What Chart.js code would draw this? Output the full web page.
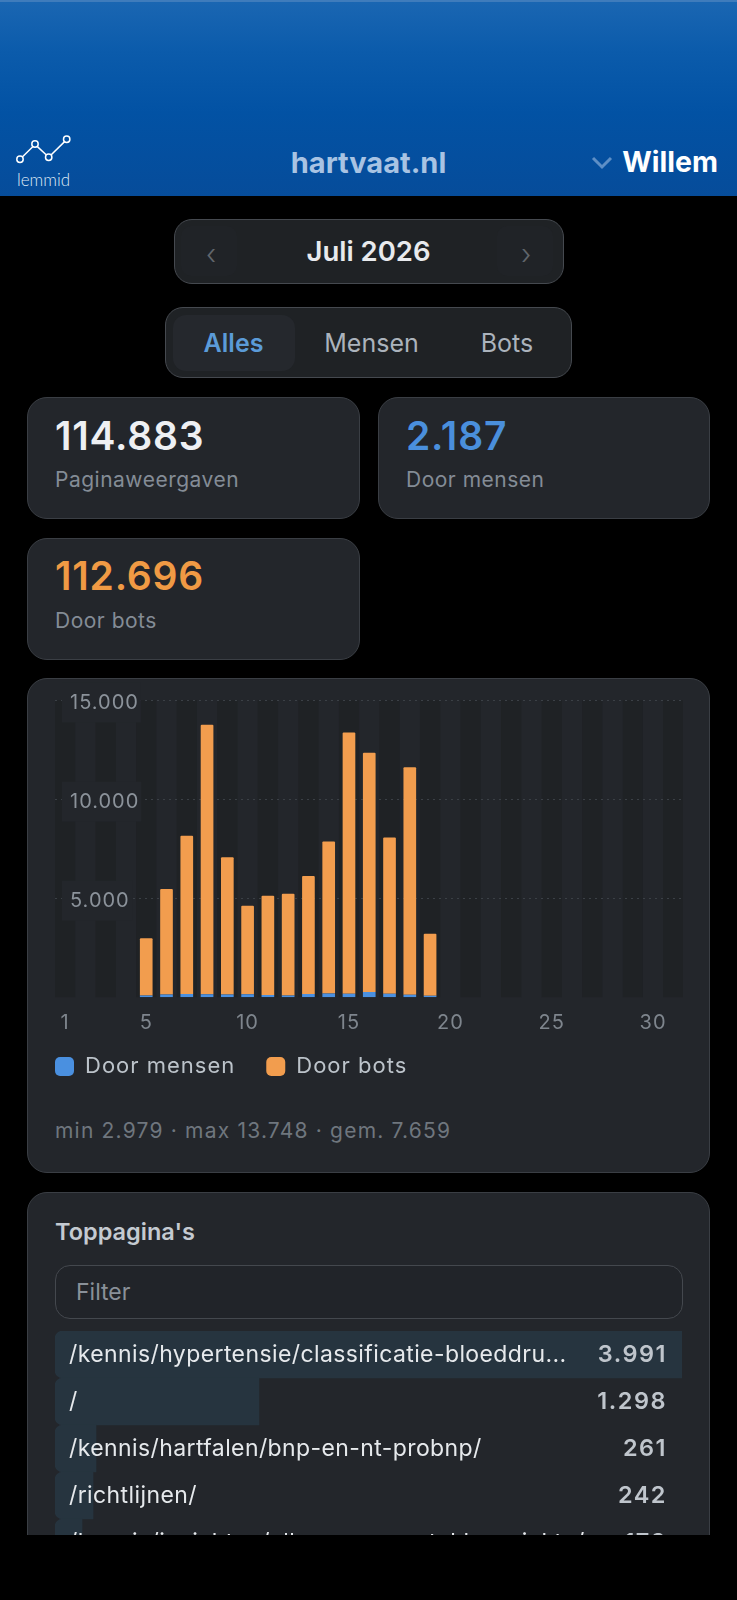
<!DOCTYPE html>
<html lang="nl">
<head>
<meta charset="utf-8">
<title>hartvaat.nl</title>
<script src="https://cdn.jsdelivr.net/npm/chart.js@4"></script>
<style>
    * { box-sizing: border-box; }
    html, body { margin: 0; background: #000; }
    body { width: 737px; height: 1600px; overflow: hidden; font-family: Inter, "Noto Sans", sans-serif; }
    #page { position: relative; width: 737px; height: 1535px; overflow: hidden; }
    #page > * { position: absolute; }
    .txt { position: absolute; white-space: nowrap; line-height: 1; }
    .cc { transform: translate(-50%, -50%); }
    .lc { transform: translateY(-50%); }
    .rc { transform: translate(-100%, -50%); }
    #header { left: 0; top: 0; width: 737px; height: 196px;
        background: linear-gradient(#1a66b2 0, #0b5bab 50px, #0252a4 110px, #064c9a 196px);
        border-top: 2px solid #3f7cbc; }
    .box { background: #23262b; border: 1.5px solid #3a3e44; border-radius: 20px; }
    .dark { background: #1f2225; border: 1.5px solid #45494f; border-radius: 18px; }
    .stat-val { font-size: 39px; font-weight: 600; letter-spacing: 0.8px; }
    .stat-lab { font-size: 21px; color: #848c96; letter-spacing: 0.5px; }
    #chartWrap { left: 23.5px; top: 672.8px; width: 659.5px; height: 421.5px; }
    #rowsWrap { left: 55px; top: 1331px; width: 627px; height: 235px; }
</style>
</head>
<body>
<div id="page">
    <div id="header"></div>
    <svg style="left:14px;top:134px" width="60" height="32" viewBox="14 134 60 32" fill="none" stroke="#fff" stroke-width="1.5">
        <path d="M22.3 157 L33 146.5 M37.4 146.6 L46.4 155 M51 155 L64.6 141.6"/>
        <circle cx="20" cy="159.3" r="3.2"/><circle cx="35" cy="144" r="3.2"/>
        <circle cx="48.7" cy="157.3" r="3.2"/><circle cx="66.7" cy="139.3" r="3.2"/>
    </svg>
    <div class="txt lc" style="left:17px;top:179px;font:300 17px Lato;color:#dfe9f5">lemmid</div>
    <div class="txt cc" style="left:368.5px;top:162px;font-size:29px;font-weight:700;color:#a8c3e3">hartvaat.nl</div>
    <svg style="left:591px;top:155px" width="22" height="15" fill="none" stroke="#5e8fc6" stroke-width="3"><path d="M2 3 L11 12 L20 3"/></svg>
    <div class="txt rc" style="left:718px;top:162px;font-size:28.5px;font-weight:700;color:#fff">Willem</div>

    <div class="dark" style="left:174px;top:219px;width:390px;height:65px"></div>
    <div style="left:181px;top:226px;width:56px;height:50px;background:#202327;border-radius:10px"></div>
    <div style="left:497px;top:226px;width:56px;height:50px;background:#202327;border-radius:10px"></div>
    <div class="txt cc" style="left:211px;top:254px;font-size:28px;font-weight:300;color:#60666c">‹</div>
    <div class="txt cc" style="left:526px;top:254px;font-size:28px;font-weight:300;color:#60666c">›</div>
    <div class="txt cc" style="left:368.5px;top:251.5px;font-size:27.5px;font-weight:600;color:#e8eaed">Juli 2026</div>

    <div class="dark" style="left:165px;top:307px;width:407px;height:71px"></div>
    <div style="left:173px;top:315px;width:122px;height:56px;background:#25282d;border-radius:13px"></div>
    <div class="txt cc" style="left:233.5px;top:343px;font-size:25px;font-weight:600;color:#5b9bd8">Alles</div>
    <div class="txt cc" style="left:371.5px;top:343px;font-size:25px;font-weight:400;color:#abb3bc">Mensen</div>
    <div class="txt cc" style="left:507px;top:343px;font-size:25px;font-weight:400;color:#abb3bc">Bots</div>

    <div class="box" style="left:27px;top:397px;width:333px;height:122px"></div>
    <div class="txt stat-val lc" style="left:55px;top:434.5px;color:#eef0f3">114.883</div>
    <div class="txt stat-lab lc" style="left:55px;top:479px">Paginaweergaven</div>
    <div class="box" style="left:378px;top:397px;width:332px;height:122px"></div>
    <div class="txt stat-val lc" style="left:406px;top:434.5px;color:#4a8fdc">2.187</div>
    <div class="txt stat-lab lc" style="left:406px;top:479px">Door mensen</div>
    <div class="box" style="left:27px;top:538px;width:333px;height:122px"></div>
    <div class="txt stat-val lc" style="left:55px;top:575px;color:#f09a44">112.696</div>
    <div class="txt stat-lab lc" style="left:55px;top:620px">Door bots</div>

    <div class="box" style="left:27px;top:678px;width:683px;height:495px"></div>
    <div id="chartWrap"><canvas id="dagen"></canvas></div>
    <div class="txt lc" style="left:55px;top:1130px;font-size:21px;color:#6f767e;letter-spacing:1.2px">min 2.979 · max 13.748 · gem. 7.659</div>

    <div class="box" style="left:27px;top:1192px;width:683px;height:420px"></div>
    <div class="txt lc" style="left:55px;top:1232px;font-size:23.5px;font-weight:600;color:#c4cad1">Toppagina's</div>
    <div style="left:55px;top:1265px;width:628px;height:54px;border:1.5px solid #44484e;border-radius:15px;background:#212429"></div>
    <div class="txt lc" style="left:76px;top:1292px;font-size:23px;color:#8a9199">Filter</div>
    <div id="rowsWrap"><canvas id="pagina"></canvas></div>
    <div id="rowTexts"></div>
</div>
<script>
const dagen = ['1', '2', '3', '4', '5', '6', '7', '8', '9', '10', '11', '12', '13', '14', '15', '16',
    '17', '18', '19', '20', '21', '22', '23', '24', '25', '26', '27', '28', '29', '30', '31'];
const dagTicks = ['1', '5', '10', '15', '20', '25', '30'];
const doorMensen = [null, null, null, null, 90, 140, 165, 145, 140, 145, 110, 80, 160, 190, 180, 260, 180, 125, 77];
const doorBots = [null, null, null, null, 2889, 5318, 7978, 13603, 6925, 4467, 5009, 5140, 5957, 7665, 13185, 12076, 7878, 11475, 3131];

const paginas = ['/kennis/hypertensie/classificatie-bloeddru...', '/', '/kennis/hartfalen/bnp-en-nt-probnp/',
    '/richtlijnen/', '/kennis/inzichten/alles-over-aortaklep-ziekte/'];
const paginaViews = [3991, 1298, 261, 242, 172];

const nl = (v) => String(v).replace(/\B(?=(\d{3})+$)/g, '.');

// donkere banen achter de oneven dagen, onder de rasterlijnen
const banen = {
    id: 'banen',
    beforeDraw(chart) {
        const { ctx, chartArea, scales } = chart;
        const stap = scales.x.getPixelForValue(1) - scales.x.getPixelForValue(0);
        ctx.save();
        ctx.fillStyle = '#1f2225';
        dagen.forEach((d, i) => {
            if (i % 2 === 0) {
                ctx.fillRect(scales.x.getPixelForValue(i) - stap / 2, chartArea.top, stap, chartArea.bottom - chartArea.top);
            }
        });
        ctx.restore();
    },
};

const opmaak = {
    id: 'opmaak',
    beforeInit(chart) { chart.ctx.letterSpacing = '1px'; },
    beforeDraw(chart) { chart.ctx.letterSpacing = '1px'; },
    // legenda iets dichter op de as
    afterLayout(chart) { chart.legend.top -= 7; chart.legend.bottom -= 7; },
};

new Chart(document.getElementById('dagen').getContext('2d'), {
    type: 'bar',
    plugins: [banen, opmaak],
    data: {
        labels: dagen,
        datasets: [
            { label: 'Door mensen', data: doorMensen, backgroundColor: '#4a90e0', borderRadius: 1, barPercentage: 0.625, categoryPercentage: 1 },
            { label: 'Door bots', data: doorBots, backgroundColor: '#f29d4e', borderRadius: 1, barPercentage: 0.625, categoryPercentage: 1 },
        ],
    },
    options: {
        responsive: true,
        maintainAspectRatio: false,
        animation: false,
        layout: { padding: 0 },
        plugins: {
            tooltip: { enabled: false },
            legend: {
                position: 'bottom',
                align: 'start',
                labels: {
                    color: '#bcc3ca',
                    font: { family: 'Inter', size: 22 },
                    boxWidth: 19,
                    boxHeight: 19,
                    useBorderRadius: true,
                    borderRadius: 5,
                    padding: 31,
                },
            },
        },
        scales: {
            x: {
                stacked: true,
                afterFit(axis) {
                    axis.height = 34.3;
                    axis.paddingLeft = 0;
                    axis.paddingRight = 0;
                },
                grid: { display: false },
                border: { display: false },
                ticks: {
                    color: '#7e858d',
                    font: { family: 'Inter', size: 20 },
                    autoSkip: false,
                    maxRotation: 0,
                    padding: 6,
                    callback(value) {
                        const t = this.getLabelForValue(value);
                        return dagTicks.includes(t) ? t : '';
                    },
                },
            },
            y: {
                stacked: true,
                min: 0,
                max: 15000,
                afterFit(axis) { axis.width = 31; },
                afterBuildTicks(axis) { axis.ticks = axis.ticks.filter((t) => t.value > 0); },
                grid: { color: '#3b4046', lineWidth: 1, drawTicks: false },
                border: { display: false, dash: [2, 4] },
                ticks: {
                    stepSize: 5000,
                    mirror: true,
                    padding: 15,
                    labelOffset: 2.5,
                    color: '#8b929a',
                    font: { family: 'Inter', size: 20 },
                    showLabelBackdrop: true,
                    backdropColor: '#23262b',
                    backdropPadding: { x: 8, y: 8 },
                    callback: (v) => nl(v),
                },
            },
        },
    },
});

new Chart(document.getElementById('pagina').getContext('2d'), {
    type: 'bar',
    data: {
        labels: paginas,
        datasets: [{
            data: paginaViews,
            backgroundColor: '#26343f',
            borderRadius: { topLeft: 8, bottomLeft: 8, topRight: 0, bottomRight: 0 },
            borderSkipped: false,
            barPercentage: 1,
            categoryPercentage: 1,
        }],
    },
    options: {
        indexAxis: 'y',
        responsive: true,
        maintainAspectRatio: false,
        animation: false,
        layout: { padding: 0 },
        plugins: { legend: { display: false }, tooltip: { enabled: false } },
        scales: {
            x: { display: false, min: 0, max: paginaViews[0] },
            y: { display: false },
        },
    },
});

const rijen = document.getElementById('rowTexts');
const midden = [1354, 1401, 1448, 1495, 1542];
paginas.forEach((p, i) => {
    const tekst = document.createElement('div');
    tekst.className = 'txt lc';
    tekst.style.cssText = `left:69px;top:${midden[i]}px;font-size:23px;letter-spacing:0.4px;color:#e6e9ec`;
    tekst.textContent = p;
    rijen.appendChild(tekst);
    const aantal = document.createElement('div');
    aantal.className = 'txt rc';
    aantal.style.cssText = `left:667px;top:${midden[i]}px;font-size:23.5px;font-weight:600;letter-spacing:1.5px;color:#bfc5cc`;
    aantal.textContent = nl(paginaViews[i]);
    rijen.appendChild(aantal);
});
</script>
</body>
</html>
